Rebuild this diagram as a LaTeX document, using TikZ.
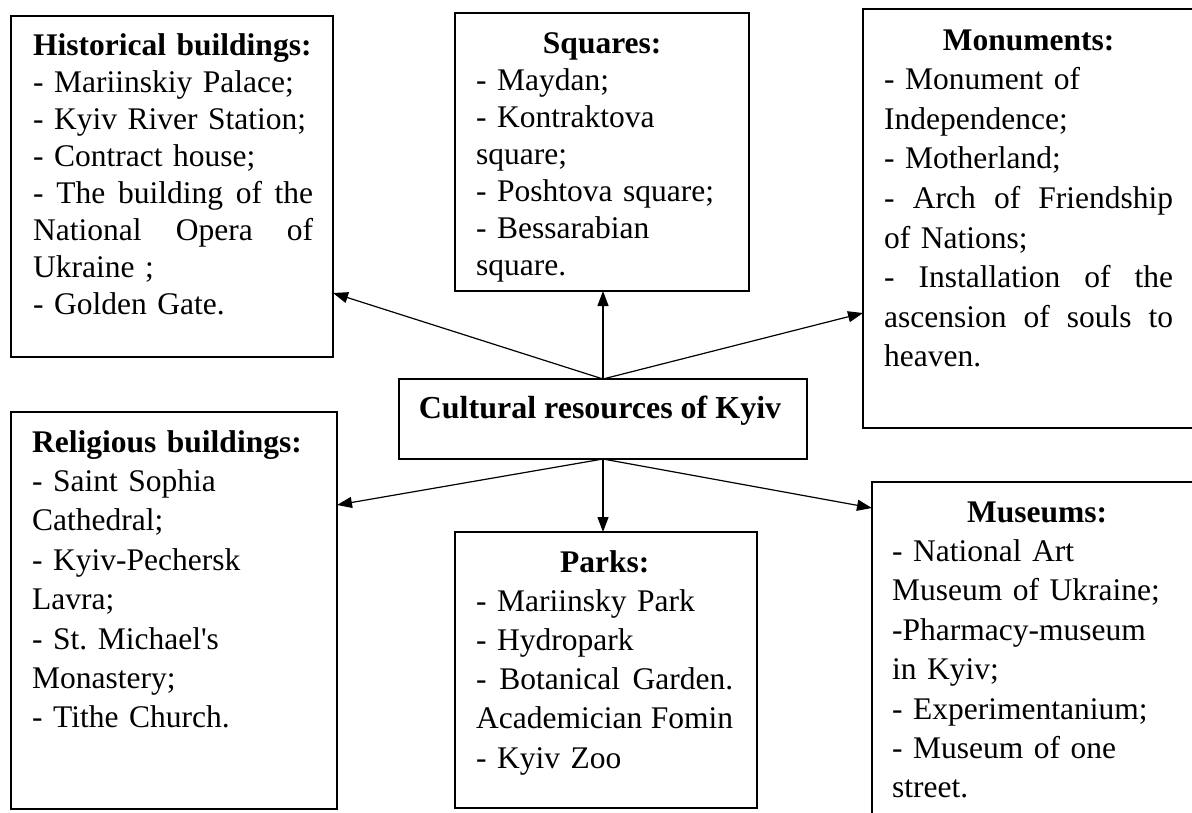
\documentclass[tikz,border=0pt]{standalone}
\usepackage{fontspec}
\setmainfont{Liberation Serif}
\usetikzlibrary{arrows.meta}
\frenchspacing
% a line spread over a given width (words separated by \hfill),
% and a bold heading centred in a given width
\newcommand\jline[2]{\leavevmode\hbox to #1{#2}}
\newcommand\ctitle[2]{\makebox[#1][c]{\textbf{#2}}}
\begin{document}
\begin{tikzpicture}[x=1pt,y=-1pt,
  box/.style={draw, line width=1.3pt, inner sep=0pt, outer sep=0pt, anchor=north west},
  listtext/.style={anchor=base west, inner sep=0pt, align=left, text width=400pt},
  tight/.style={font=\fontsize{31.5}{37}\selectfont},
  loose/.style={font=\fontsize{31.5}{39.4}\selectfont},
  arr/.style={-{Triangle[length=15pt,width=11pt]}, line width=1.2pt}]
\useasboundingbox (0,0) rectangle (1192,812);

% frames
\node[box, minimum width=322pt, minimum height=341pt] (hist) at (11,16) {};
\node[box, minimum width=294pt, minimum height=278pt] (sq) at (455,13) {};
\node[box, minimum width=337pt, minimum height=419pt] (mon) at (863,9) {};
\node[box, minimum width=408pt, minimum height=80pt] (cult) at (399,379) {};
\node[box, minimum width=326pt, minimum height=397pt] (rel) at (11,412) {};
\node[box, minimum width=302pt, minimum height=276pt] (parks) at (455,532) {};
\node[box, minimum width=328pt, minimum height=338pt] (mus) at (872,482) {};

% contents
\node[listtext, tight] (histT) at (33,55) {%
\textbf{Historical buildings:}\\
- Mariinskiy Palace;\\
- Kyiv River Station;\\
- Contract house;\\
\jline{280pt}{-\hfill The\hfill building\hfill of\hfill the}\\
\jline{280pt}{National\hfill Opera\hfill of}\\
Ukraine ;\\
- Golden Gate.};

\node[listtext, tight] (sqT) at (476,53) {%
\ctitle{252pt}{Squares:}\\
- Maydan;\\
- Kontraktova\\
square;\\
- Poshtova square;\\
- Bessarabian\\
square.};

\node[listtext, font=\fontsize{31.5}{39.6}\selectfont] (monT) at (884,50) {%
\ctitle{289pt}{Monuments:}\\
- Monument of\\
Independence;\\
- Motherland;\\
\jline{289pt}{-\hfill Arch\hfill of\hfill Friendship}\\
of Nations;\\
\jline{289pt}{-\hfill Installation\hfill of\hfill the}\\
\jline{289pt}{ascension\hfill of\hfill souls\hfill to}\\
heaven.};

\node[anchor=base, inner sep=0pt, font=\fontsize{32}{37}\selectfont\bfseries] (cultT) at (600,418) {Cultural resources of Kyiv};

\node[listtext, loose] (relT) at (32,452) {%
\textbf{Religious buildings:}\\
- Saint Sophia\\
Cathedral;\\
- Kyiv-Pechersk\\
Lavra;\\
- St. Michael\textquotesingle s\\
Monastery;\\
- Tithe Church.};

\node[listtext, font=\fontsize{31.5}{39.2}\selectfont] (parkT) at (476,572) {%
\ctitle{257pt}{Parks:}\\
- Mariinsky Park\\
- Hydropark\\
\jline{257pt}{-\hfill Botanical\hfill Garden.}\\
\jline{257pt}{Academician\hfill Fomin}\\
- Kyiv Zoo};

\node[listtext, loose] (musT) at (892,522) {%
\ctitle{290pt}{Museums:}\\
- National Art\\
Museum of Ukraine;\\
-Pharmacy-museum\\
in Kyiv;\\
- Experimentanium;\\
- Museum of one\\
street.};

% connectors from the central box
\draw[arr] (cult.north) -- ([yshift=64pt]hist.south east);
\draw[arr] (cult.north) -- (cult.north |- sq.south);
\draw[arr] (cult.north) -- ([yshift=115pt]mon.south west);
\draw[arr] (cult.south) -- ([yshift=-93pt]rel.north east);
\draw[arr] (cult.south) -- (cult.south |- parks.north);
\draw[arr] (cult.south) -- ([yshift=-26pt]mus.north west);
\end{tikzpicture}
\end{document}
